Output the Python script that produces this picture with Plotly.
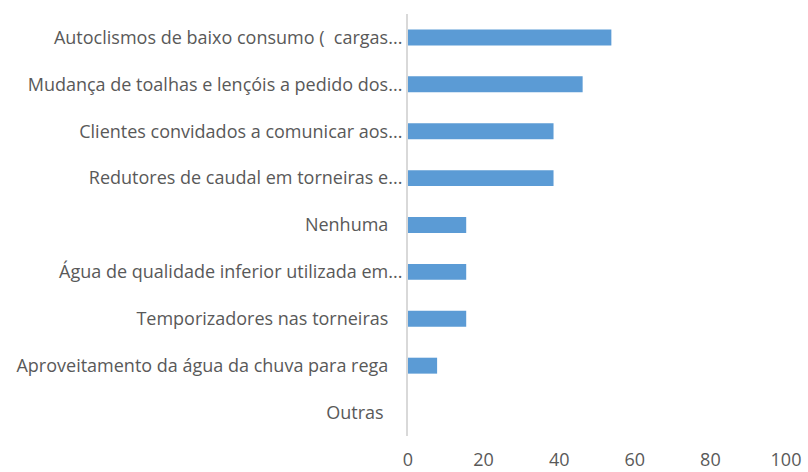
import plotly.graph_objects as go

# Medidas de poupança de água adotadas (%)
medidas = [
    "Autoclismos de baixo consumo (  cargas...",
    "Mudança de toalhas e lençóis a pedido dos...",
    "Clientes convidados a comunicar aos...",
    "Redutores de caudal em torneiras e...",
    "Nenhuma\u00a0\u00a0\u00a0",
    "Água de qualidade inferior utilizada em...",
    "Temporizadores nas torneiras\u00a0\u00a0\u00a0",
    "Aproveitamento da água da chuva para rega\u00a0\u00a0\u00a0",
    "Outras\u00a0\u00a0\u00a0\u00a0",
]
percentagens = [53.8, 46.2, 38.5, 38.5, 15.4, 15.4, 15.4, 7.7, 0]
x_ticks = [0, 20, 40, 60, 80, 100]

FONT = "Open Sans"
GREY = "#595959"
SIZE = 18

fig = go.Figure(
    go.Bar(
        x=percentagens,
        y=medidas,
        orientation="h",
        marker=dict(color="#5B9BD5", line=dict(width=0)),
        hoverinfo="x+y",
    )
)

fig.update_layout(
    width=808,
    height=472,
    margin=dict(l=408, r=22, t=14, b=36),
    paper_bgcolor="white",
    plot_bgcolor="white",
    bargap=0.66,
    showlegend=False,
    font=dict(family=FONT, size=SIZE, color=GREY),
)

fig.update_xaxes(
    range=[0, 100],
    tickvals=x_ticks,
    showgrid=False,
    zeroline=False,
    showline=False,
    ticks="",
    automargin=False,
    ticklabelstandoff=11,
    tickfont=dict(family=FONT, size=SIZE, color=GREY),
)

fig.update_yaxes(
    categoryorder="array",
    categoryarray=medidas,
    autorange="reversed",
    showgrid=False,
    zeroline=False,
    showline=True,
    linecolor="#D9D9D9",
    linewidth=2,
    ticks="",
    automargin=False,
    tickfont=dict(family=FONT, size=SIZE, color=GREY),
)

fig.write_html("out.html")
